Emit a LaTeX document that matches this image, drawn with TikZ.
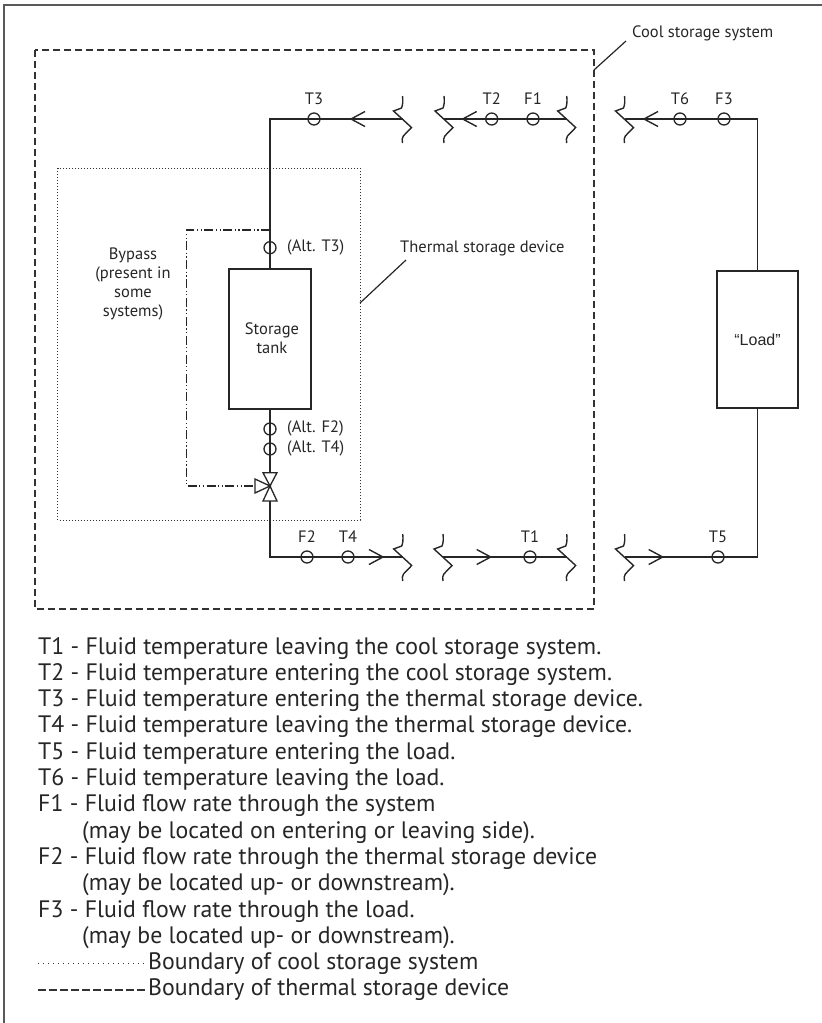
\documentclass[tikz,border=0pt]{standalone}
\usepackage{fontspec}
\setmainfont{PT Sans}
\newfontfamily\loadfont{Liberation Sans}
\begin{document}
\begin{tikzpicture}[x=1pt,y=-1pt,
  pipe/.style={line width=1.4pt, draw=black!85},
  boxst/.style={draw=black!85, line width=2pt},
  sensor/.style={draw=black!85, circle, line width=1.3pt, minimum size=12pt, inner sep=0pt},
  lbl/.style={font=\fontsize{16.5}{19}\selectfont, text=black!85, inner sep=0pt},
  leg/.style={font=\fontsize{23.8}{26}\selectfont, text=black!85, inner sep=0pt, anchor=base west},
  coolbound/.style={draw=black!80, line width=1.3pt, dash pattern=on 7pt off 4pt},
  thermbound/.style={draw=black!80, line width=1pt, dash pattern=on 1pt off 2pt},
  bypassline/.style={draw=black!85, line width=1.2pt, dash pattern=on 9pt off 2.5pt on 1.2pt off 2.5pt on 1.2pt off 2.5pt},
  leader/.style={draw=black!85, line width=1.2pt},
  brk/.pic={\draw[pipe] (0,-23) .. controls (0.6,-18) and (0.3,-14) .. (-1,-11) -- (-9,-8) -- (9,8.5) -- (0.8,17) .. controls (-0.5,19) and (-0.6,21) .. (0,24);},
  larr/.pic={\draw[pipe] (14,-7.5) -- (0,0) -- (14,7.5);},
  rarr/.pic={\draw[pipe] (-14,-7.5) -- (0,0) -- (-14,7.5);}
]
\useasboundingbox (0,0) rectangle (822,1023);
% outer frame
\coordinate (fbl) at (4,1023);
\coordinate (ftl) at (4,5);
\coordinate (ftr) at (822,5);
\draw[black!65, line width=1.2pt] (fbl) -- (ftl) -- (ftr);

% boundaries
\draw[coolbound] (35,50) rectangle (594,609);
\draw[thermbound] (57.7,168) rectangle (360,520);

% leaders and boundary labels
\coordinate (ldA) at (594,70);
\coordinate (ldB) at (626,41);
\draw[leader] (ldA) -- (ldB);
\node[lbl, anchor=west] (coolsys) at (632,33) {Cool storage system};
\coordinate (ldC) at (360,303);
\coordinate (ldD) at (406,260);
\draw[leader] (ldC) -- (ldD);
\node[lbl, anchor=west] (thermdev) at (400,248) {Thermal storage device};

% boxes
\node[boxst, minimum width=82pt, minimum height=140pt, inner sep=0pt] (tank) at (270,339) {};
\node[lbl, align=center] (tanktxt) at (272,338.5) {Storage\\tank};
\node[boxst, minimum width=81pt, minimum height=137pt, inner sep=0pt] (load) at (757.5,339.5) {};
\node[lbl, font=\loadfont\fontsize{16}{19}\selectfont] (loadtxt) at (757.5,339.5) {“Load”};

% coordinates of pipe corners and breaks
\coordinate (tl) at (270,119);
\coordinate (tr) at (757.5,119);
\coordinate (bl) at (270,557);
\coordinate (br) at (757.5,557);
\coordinate (bA) at (402.5,119);
\coordinate (bB) at (444,119);
\coordinate (bC) at (566.7,119);
\coordinate (bD) at (624.5,119);
\coordinate (bE) at (402.7,557);
\coordinate (bF) at (443,557);
\coordinate (bG) at (566.7,557);
\coordinate (bH) at (624.5,557);
\coordinate (vtop) at (270,472.7);
\coordinate (vbot) at (270,501);
\coordinate (vc) at (270,486);

% pipes
\draw[pipe] (tank.north) -- (tl) -- (bA);
\draw[pipe] (bB) -- (bC);
\draw[pipe] (bD) -- (tr) -- (load.north);
\draw[pipe] (load.south) -- (br) -- (bH);
\draw[pipe] (bG) -- (bF);
\draw[pipe] (bE) -- (bl) -- (vbot);
\draw[pipe] (tank.south) -- (vtop);

% breaks
\foreach \b in {bA,bB,bC,bD,bE,bF,bG,bH} \pic at (\b) {brk};

% arrows
\pic at (351,119) {larr};
\pic at (462.7,119) {larr};
\pic at (644,119) {larr};
\pic at (383,557) {rarr};
\pic at (490.7,557) {rarr};
\pic at (662.7,557) {rarr};

% valve
\draw[black!85, line width=1.3pt, line join=miter] (263,472.7) -- (277,472.7) -- (vc) -- cycle;
\draw[black!85, line width=1.3pt, line join=miter] (263,501) -- (277,501) -- (vc) -- cycle;
\draw[black!85, line width=1.3pt, line join=miter] (255,479) -- (255,493) -- (vc) -- cycle;

% bypass
\coordinate (byA) at (270,230);
\coordinate (byB) at (186.7,230);
\coordinate (byC) at (186.7,486);
\coordinate (byD) at (255,486);
\draw[bypassline] (byA) -- (byB) -- (byC) -- (byD);
\node[lbl, align=center] (bypasstxt) at (133,284) {Bypass\\(present in\\some\\systems)};

% sensors
\node[sensor] (sT3) at (314,119) {};
\node[sensor] (sT2) at (491.7,119) {};
\node[sensor] (sF1) at (533,119) {};
\node[sensor] (sT6) at (680,119) {};
\node[sensor] (sF3) at (724,119) {};
\node[sensor] (sF2) at (307,557) {};
\node[sensor] (sT4) at (348,557) {};
\node[sensor] (sT1) at (530,557) {};
\node[sensor] (sT5) at (718,557) {};
\node[sensor] (sAT3) at (270,247.7) {};
\node[sensor] (sAF2) at (270,429) {};
\node[sensor] (sAT4) at (270,449) {};

% sensor labels
\node[lbl] (lT3) at (314,99) {T3};
\node[lbl] (lT2) at (491.7,99) {T2};
\node[lbl] (lF1) at (533,99) {F1};
\node[lbl] (lT6) at (680,99) {T6};
\node[lbl] (lF3) at (724,99) {F3};
\node[lbl] (lF2) at (307,537) {F2};
\node[lbl] (lT4) at (348,537) {T4};
\node[lbl] (lT1) at (530,537) {T1};
\node[lbl] (lT5) at (718,537) {T5};
\node[lbl, anchor=west] (lAT3) at (287,247) {(Alt. T3)};
\node[lbl, anchor=west] (lAF2) at (287,428) {(Alt. F2)};
\node[lbl, anchor=west] (lAT4) at (287,448) {(Alt. T4)};

% legend
\def\ind{\hspace{44pt}}
\node[leg] (g1) at (38,654) {T1 - Fluid temperature leaving the cool storage system.};
\node[leg] (g2) at (38,680.3) {T2 - Fluid temperature entering the cool storage system.};
\node[leg] (g3) at (38,706.6) {T3 - Fluid temperature entering the thermal storage device.};
\node[leg] (g4) at (38,732.9) {T4 - Fluid temperature leaving the thermal storage device.};
\node[leg] (g5) at (38,759.2) {T5 - Fluid temperature entering the load.};
\node[leg] (g6) at (38,785.5) {T6 - Fluid temperature leaving the load.};
\node[leg] (g7) at (38,811.8) {F1 - Fluid flow rate through the system};
\node[leg] (g8) at (38,838.1) {\ind(may be located on entering or leaving side).};
\node[leg] (g9) at (38,864.4) {F2 - Fluid flow rate through the thermal storage device};
\node[leg] (g10) at (38,890.7) {\ind(may be located up- or downstream).};
\node[leg] (g11) at (38,917) {F3 - Fluid flow rate through the load.};
\node[leg] (g12) at (38,943.3) {\ind(may be located up- or downstream).};
\coordinate (d1a) at (38,963.6);
\coordinate (d1b) at (144,963.6);
\draw[black!80, line width=1.3pt, dash pattern=on 1.2pt off 3.8pt] (d1a) -- (d1b);
\node[leg] (g13) at (148,969.6) {Boundary of cool storage system};
\coordinate (d2a) at (38,989.9);
\coordinate (d2b) at (146,989.9);
\draw[black!80, line width=2pt, dash pattern=on 7.5pt off 3.5pt] (d2a) -- (d2b);
\node[leg] (g14) at (148,995.9) {Boundary of thermal storage device};
\end{tikzpicture}
\end{document}
